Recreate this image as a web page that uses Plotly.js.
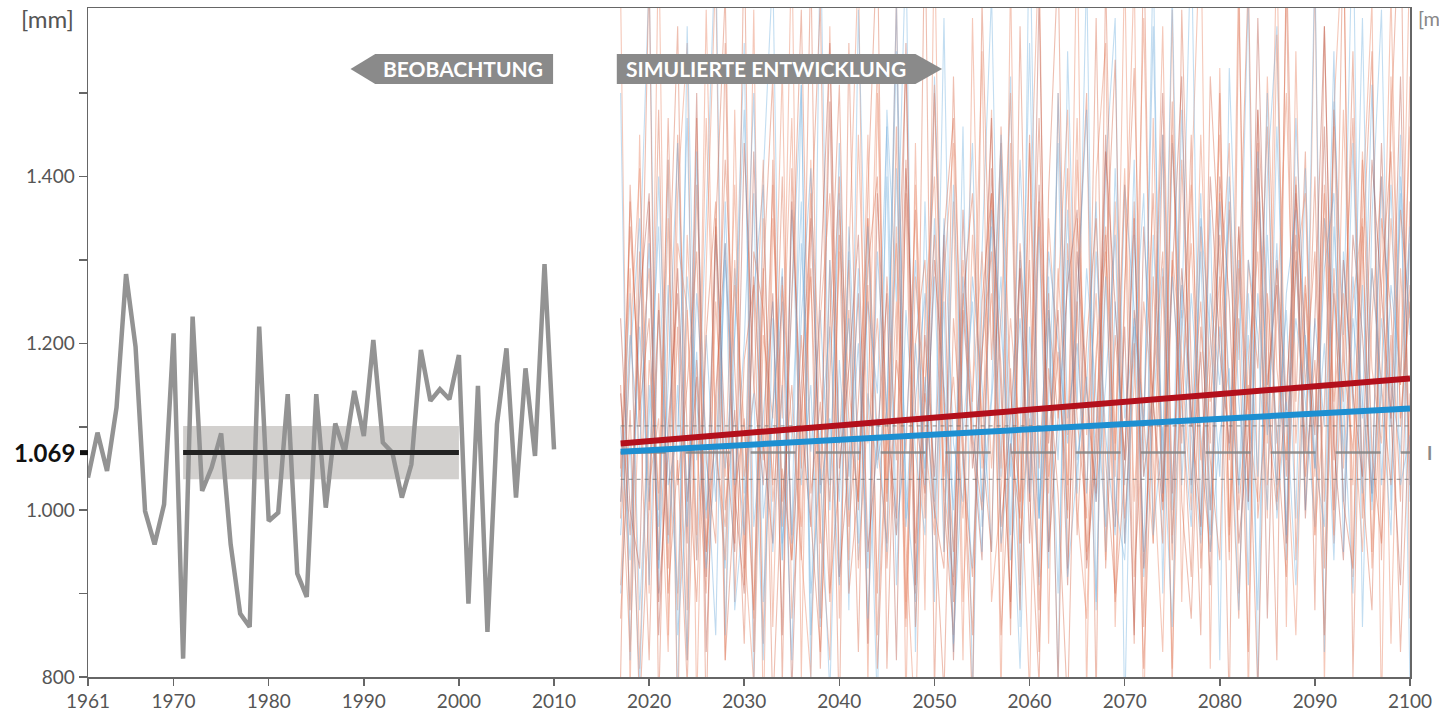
<!DOCTYPE html>
<html>
<head>
<meta charset="utf-8">
<script src="https://cdn.plot.ly/plotly-3.0.1.min.js"></script>
<style>html,body{margin:0;padding:0;background:#fff;}#chart{width:1439px;height:713px;}</style>
</head>
<body>
<div id="chart"></div>
<script>
// ---------- DATA ----------
var obsStartYear = 1961;
var observed = [1039,1093,1047,1123,1283,1196,999,959,1007,1212,
  822,1232,1023,1051,1092,959,876,860,1220,987,
  997,1139,924,896,1139,1003,1104,1069,1143,1089,
  1204,1081,1069,1015,1055,1192,1131,1145,1133,1186,
  888,1149,854,1103,1194,1015,1170,1065,1295,1073];

var refPeriod = [1971, 2000];
var refMean = 1069;
var refBand = [1037, 1101];

var simStartYear = 2017;
var simEndYear = 2100;

var red1 = [1150,880,1310,1000,1480,930,1220,820,1390,1060,960,1560,
 890,1180,1270,840,1420,1010,1150,940,1330,1610,900,1040,
 1240,830,1350,1080,960,1460,870,1200,1300,1000,930,1520,
 1070,850,1250,1380,950,1170,880,1440,1050,1260,790,1320,
 1110,990,1590,930,1210,1060,1370,860,1280,1010,1450,1140,
 920,1340,1080,1500,970,1230,830,1410,1120,1000,1630,940,
 1270,1100,1380,960,1200,1470,1030,880,1350,1240,1010,1520];
var red2 = [1010,1290,810,1180,1020,1420,740,1330,1080,900,1250,1040,
 1390,960,790,1210,1110,1530,870,1050,1280,980,820,1360,
 1150,1010,1450,850,1100,1320,960,730,1240,1400,1030,910,
 1300,1130,1550,890,1020,1230,1080,780,1370,950,1260,1480,
 1000,870,1190,1340,1040,1660,920,1110,960,1280,810,1220,
 1390,1070,950,1250,1440,900,1180,1310,990,1570,1090,850,
 1260,1040,1350,970,1480,1130,950,1230,1400,840,1290,1070];
var red3 = [1230,1000,930,1370,850,1100,1260,960,1500,830,1140,1320,
 1020,900,1430,1080,960,1280,780,1150,1350,1030,1490,920,
 1060,1260,840,1380,1110,990,1560,910,1210,1040,1330,820,
 1240,1080,940,1410,1140,890,1300,1010,1620,950,1110,1270,
 1360,930,1070,1450,980,1220,850,1340,1130,1000,1280,1520,
 1030,1190,910,1400,1250,960,1090,1480,870,1300,1120,1390,
 990,1230,1580,1080,940,1330,1210,1020,1440,1110,910,1370];
var red4 = [1050,1340,1140,820,1260,970,1450,1090,890,1210,1370,1000,
 1120,840,1310,1240,1030,1400,940,1110,1290,810,1220,1510,
 980,1130,1350,900,1280,1060,1420,960,1150,1330,1010,850,
 1250,1380,1080,950,1460,1140,1010,1300,830,1240,1110,1410,
 970,1200,1350,1060,900,1270,1530,1040,1150,1310,940,1420,
 1100,1250,1000,1380,1130,870,1300,1170,1460,1010,1140,1330,
 1070,1400,930,1260,1130,1550,990,1290,1150,1030,1360,1230];
var red5 = [910,1200,1410,1030,1110,830,1320,1240,940,1600,1070,980,
 1270,1100,870,1350,1010,1150,1470,950,800,1230,1380,1080,
 1300,930,1120,1540,1020,1250,860,1390,1090,970,1280,1440,
 890,1140,1310,1050,1230,1500,960,1110,920,1350,1160,1030,
 1420,1090,1260,940,1370,990,1150,1590,1060,830,1310,1180,
 1000,1450,1130,1280,940,1340,1110,1010,1520,1170,1060,1290,
 1380,970,1130,1460,1050,1250,1350,930,1150,1620,1100,1270];
var red6 = [1140,970,1250,1380,890,1070,1290,1010,1160,920,1340,1090,
 950,1440,1150,1030,1260,850,1370,1110,980,1280,1560,1050,
 1170,1330,950,1080,1260,820,1410,1120,1020,1300,1140,890,
 1360,1050,1180,1470,980,1110,1290,960,1390,1080,1240,910,
 1310,1140,1010,1430,1240,1060,1350,930,1160,1500,1020,1290,
 1120,980,1400,1190,1080,1340,1010,1590,1150,1270,960,1380,
 1200,1090,1460,1000,1300,1140,1040,1420,1260,1110,1520,1030];
var red7 = [990,1370,1120,1230,940,1470,1030,1150,1310,950,1100,1420,
 1170,910,1280,1060,1390,980,1250,1600,1020,1130,890,1330,
 1110,1010,1290,1400,930,1180,1070,1360,990,1500,1130,950,
 1260,1090,1000,1380,1170,870,1320,1120,1470,1040,1190,990,
 1350,1150,1020,1290,1540,960,1240,1110,1380,1010,1300,1080,
 1450,930,1170,1330,1060,1260,1640,990,1140,1290,1040,1400,
 1150,1310,1010,1480,1180,1070,1340,950,1270,1430,1110,1250];
var red8 = [1070,830,1150,1290,1000,1350,880,1240,970,1470,1090,940,
 1300,1040,1140,1420,860,1270,1100,980,1380,1160,1010,1310,
 940,1450,1080,1230,1010,1340,890,1280,1130,1510,1040,1160,
 990,1330,1110,1260,1050,1440,960,1140,1360,1020,1290,1090,
 1470,950,1180,1310,1080,1410,1010,1250,1130,1580,970,1150,
 1320,1060,1200,1450,980,1290,1120,1370,1030,1230,1500,1080,
 1280,970,1390,1130,1260,1030,1430,1170,1080,1350,1150,1460];
var red9 = [870,1120,760,1010,1240,900,1060,790,1180,950,1350,820,
 1020,1110,880,1290,760,1050,940,1210,990,830,1160,1400,
 900,1030,1270,810,1090,970,1380,860,1140,1000,780,1230,
 1060,920,1190,1310,850,1080,990,1450,880,1170,1020,760,
 1250,940,1100,1330,890,1040,1200,810,1130,960,1490,1010,
 870,1220,1060,940,1370,1000,1150,780,1260,1090,920,1310,
 1040,1180,850,1290,1010,930,1420,1070,960,1210,830,1140];
var red10 = [1620,780,1450,900,1700,850,1380,1560,760,1290,1650,820,
 1480,930,1600,740,1350,1110,1690,800,1420,960,1580,870,
 1300,1660,790,1500,1010,1620,760,1440,880,1700,950,1370,
 820,1590,1050,1480,770,1640,910,1330,1680,840,1500,1000,
 1710,780,1400,1560,860,1250,1650,730,1470,1020,1600,890,
 1380,1720,810,1530,950,1660,770,1440,1080,1690,860,1550,
 1000,1640,790,1480,1700,920,1360,1610,750,1520,1150,1680];
var red11 = [800,1390,1100,1650,760,1230,1580,880,1470,740,1340,1620,
 960,1700,830,1280,1520,790,1410,1050,1660,870,1300,740,
 1560,1000,1380,1690,810,1200,1540,900,1720,780,1330,1470,
 1090,760,1610,1180,1440,850,1580,1020,790,1380,1660,930,
 1250,1500,770,1640,1060,1390,840,1700,960,1450,780,1600,
 1170,850,1520,1290,760,1610,1010,1480,1240,820,1670,1130,
 1430,880,1580,1060,1710,800,1300,1550,940,1460,1750,870];

var blue1 = [1040,1260,880,1110,1340,960,1150,820,1430,1000,1080,930,
 1290,1020,1380,890,1120,1250,970,1510,850,1090,1220,1010,
 1310,940,1140,1050,1400,910,1240,1070,970,1350,1110,830,
 1200,1440,980,1130,1280,940,1080,1560,990,1230,900,1300,
 1060,1150,1370,950,1250,1030,1420,920,1120,1290,1000,1480,
 1090,960,1260,1150,1360,1020,1210,880,1330,1080,1240,990,
 1410,1050,1200,940,1310,1120,1590,1000,1230,1100,1380,1010];
var blue2 = [970,1180,1350,910,1240,1030,1090,1470,940,1210,1010,1300,
 1110,970,1260,1390,950,1150,820,1320,1070,1240,1000,1440,
 1040,1200,930,1310,1110,1610,980,1130,1260,890,1350,1080,
 1010,1280,1150,950,1420,1070,1230,1020,1340,930,1500,1110,
 1200,1020,1310,1090,970,1390,1240,1040,1140,1450,960,1270,
 1100,1380,1000,1220,1070,1300,910,1430,1130,1030,1260,1360,
 1000,1230,1100,1550,950,1280,1130,1020,1400,1150,1070,1320];
var blue3 = [1100,940,1220,1010,1400,1070,900,1280,1130,990,1330,1050,
 1210,1480,980,1110,1250,940,1360,1030,1150,860,1300,1080,
 1230,960,1340,1060,1120,1550,990,1200,1050,1280,950,1390,
 1090,1250,1010,1140,1450,970,1310,1100,910,1240,1060,1360,
 1020,1290,1140,980,1410,1110,1220,950,1330,1070,1620,1030,
 1260,1090,970,1370,1150,1030,1300,1210,1000,1460,1100,1230,
 1130,980,1350,1250,1070,1440,1020,1290,1140,970,1400,1210];
var blue4 = [1010,1210,1070,1320,930,1150,1440,980,1260,1080,850,1370,
 1030,1200,1500,990,1120,1290,960,1230,1410,1020,1110,910,
 1340,1060,1250,1140,1460,970,1090,1300,1030,1520,1150,1000,
 1280,1110,950,1360,1220,1040,1420,1130,990,1310,1200,1080,
 1250,1480,1010,1150,1330,960,1230,1100,1580,1020,1280,1120,
 980,1350,1210,1040,1400,1130,1000,1260,1090,1320,970,1470,
 1190,1050,1290,1380,1010,1230,1110,1510,1030,1270,1160,1340];
var blue5 = [900,1080,790,1150,980,1270,850,1020,1190,930,1060,1320,
 880,1010,1140,820,1230,960,1090,1370,900,1050,780,1180,
 1000,1290,870,1110,950,1410,1030,890,1160,990,1250,840,
 1070,930,1200,1340,960,1080,810,1220,1000,1130,1440,920,
 1050,1160,890,1280,1010,940,1190,1380,970,1100,860,1240,
 1020,1310,950,1090,1170,880,1260,1040,1500,990,1130,910,
 1210,1060,980,1340,1120,900,1270,1010,1150,1390,1030,1090];
var blue6 = [1500,820,1290,1640,900,1420,760,1580,1060,1350,1690,850,
 1210,1560,780,1400,1650,940,1260,1510,800,1700,1030,1380,
 880,1600,1150,760,1480,1250,1680,830,1370,1010,1590,920,
 1460,770,1310,1620,1040,1520,860,1740,990,1280,790,1550,
 1120,1650,880,1410,1590,750,1330,1060,1670,900,1440,1230,
 1700,970,1360,820,1530,1180,1620,780,1400,1580,940,1300,
 1070,1660,830,1490,1210,1730,860,1350,1600,1000,1450,790];

var trendYears = [2017, 2100];
var redTrend = [1080, 1158];
var blueTrend = [1070, 1122];

var xTickVals = [1961,1970,1980,1990,2000,2010,2020,2030,2040,2050,2060,2070,2080,2090,2100];
var yTickVals = [800,900,1000,1100,1200,1300,1400,1500];
var yTickText = ['800','','1.000','','1.200','','1.400',''];
var leftLabel = 'BEOBACHTUNG';
var rightLabel = 'SIMULIERTE ENTWICKLUNG';
var unitLabel = '[mm]';
var unitLabelCut = '[m';
var meanLabel = '1.069';

// ---------- BUILD ----------
var obsYears = [];
for (var i = 0; i < observed.length; i++) obsYears.push(obsStartYear + i);
var simYears = [];
for (var y = simStartYear; y <= simEndYear; y++) simYears.push(y);

var FONT = 'Lato, "Open Sans", sans-serif';
var traces = [];
function ens(vals, color) {
  traces.push({x: simYears.slice(0, vals.length), y: vals, type: 'scatter', mode: 'lines',
    line: {color: color, width: 1.1}, hoverinfo: 'skip', showlegend: false});
}
var rA = 'rgba(218,110,80,0.45)', rB = 'rgba(175,70,55,0.4)', rC = 'rgba(235,145,115,0.5)';
var bA = 'rgba(120,180,225,0.45)', bB = 'rgba(95,160,215,0.4)';
ens(red10, rC); ens(blue6, bA); ens(red11, rA);
ens(red1, rA); ens(blue1, bA); ens(red2, rC); ens(red3, rB);
ens(blue2, bB); ens(red4, rA); ens(red5, rC); ens(blue3, bA);
ens(red6, rB); ens(red7, rA); ens(blue4, bB); ens(red8, rC);
ens(blue5, bA); ens(red9, rA);

// reference lines over simulation period
traces.push({x: [simStartYear, simEndYear], y: [refBand[1], refBand[1]], mode: 'lines',
  line: {color: 'rgba(110,110,110,0.8)', width: 1, dash: '4px,4px'}, hoverinfo: 'skip', showlegend: false});
traces.push({x: [simStartYear, simEndYear], y: [refBand[0], refBand[0]], mode: 'lines',
  line: {color: 'rgba(110,110,110,0.8)', width: 1, dash: '4px,4px'}, hoverinfo: 'skip', showlegend: false});
traces.push({x: [simStartYear, simEndYear], y: [refMean, refMean], mode: 'lines',
  line: {color: 'rgba(130,130,130,0.85)', width: 2.5, dash: '45px,20px'}, hoverinfo: 'skip', showlegend: false});

// trends
traces.push({x: trendYears, y: redTrend, mode: 'lines', line: {color: '#b3101c', width: 6}, hoverinfo: 'skip', showlegend: false});
traces.push({x: trendYears, y: blueTrend, mode: 'lines', line: {color: '#1d8fd1', width: 6}, hoverinfo: 'skip', showlegend: false});

// observations
traces.push({x: obsYears, y: observed, mode: 'lines', line: {color: '#939393', width: 4.5}, hoverinfo: 'skip', showlegend: false});
traces.push({x: refPeriod, y: [refMean, refMean], mode: 'lines', line: {color: '#222222', width: 5}, hoverinfo: 'skip', showlegend: false});

var boxFill = '#8a8a8a';
var layout = {
  width: 1439, height: 713,
  margin: {l: 88, r: 29, t: 8, b: 36, pad: 0},
  paper_bgcolor: '#ffffff', plot_bgcolor: '#ffffff',
  font: {family: FONT, color: '#555555', size: 19},
  showlegend: false,
  xaxis: {range: [1961, 2100], tickmode: 'array', tickvals: xTickVals, ticktext: xTickVals.map(String),
    ticks: 'outside', ticklen: 7, tickwidth: 1.5, tickcolor: '#666', showline: true, linecolor: '#666',
    linewidth: 1.5, mirror: true, showgrid: false, zeroline: false, fixedrange: true,
    tickfont: {family: FONT, size: 19, color: '#555'}},
  yaxis: {range: [800, 1602], tickmode: 'array', tickvals: yTickVals, ticktext: yTickText,
    ticks: 'outside', ticklen: 8, tickwidth: 1.5, tickcolor: '#666', showline: true, linecolor: '#666',
    linewidth: 1.5, mirror: true, showgrid: false, zeroline: false, fixedrange: true,
    tickfont: {family: FONT, size: 19, color: '#555'}},
  shapes: [
    {type: 'rect', xref: 'x', yref: 'y', x0: refPeriod[0], x1: refPeriod[1], y0: refBand[0], y1: refBand[1],
      fillcolor: 'rgba(195,192,190,0.75)', line: {width: 0}, layer: 'below'},
    {type: 'line', xref: 'paper', yref: 'y', x0: -8/1322, x1: 0, y0: refMean, y1: refMean,
      line: {color: '#111', width: 5}},
    {type: 'path', xref: 'x', yref: 'y', path: 'M 1988.6 1529 L 1991.2 1547 L 2009.9 1547 L 2009.9 1511 L 1991.2 1511 Z',
      fillcolor: boxFill, line: {width: 0}},
    {type: 'path', xref: 'x', yref: 'y', path: 'M 2016.6 1547 L 2048.0 1547 L 2050.8 1529 L 2048.0 1511 L 2016.6 1511 Z',
      fillcolor: boxFill, line: {width: 0}}
  ],
  annotations: [
    {text: '<b>' + leftLabel + '</b>', x: 2000.4, y: 1529, xref: 'x', yref: 'y', showarrow: false,
      font: {family: FONT, size: 21, color: '#ffffff'}, xanchor: 'center', yanchor: 'middle'},
    {text: '<b>' + rightLabel + '</b>', x: 2032.3, y: 1529, xref: 'x', yref: 'y', showarrow: false,
      font: {family: FONT, size: 21, color: '#ffffff'}, xanchor: 'center', yanchor: 'middle'},
    {text: unitLabel, x: -12/1322, y: 1 - 10/669, xref: 'paper', yref: 'paper', showarrow: false,
      font: {family: FONT, size: 24, color: '#555'}, xanchor: 'right', yanchor: 'middle'},
    {text: unitLabelCut, x: 1 + 6/1322, y: 1 - 10/669, xref: 'paper', yref: 'paper', showarrow: false,
      font: {family: FONT, size: 20, color: '#888'}, xanchor: 'left', yanchor: 'middle'},
    {text: '<b>' + meanLabel + '</b>', x: -11/1322, y: refMean, xref: 'paper', yref: 'y', showarrow: false,
      font: {family: FONT, size: 24, color: '#111'}, xanchor: 'right', yanchor: 'middle'},
    {text: '<b>I</b>', x: 1 + 15/1322, y: refMean, xref: 'paper', yref: 'y', showarrow: false,
      font: {family: FONT, size: 18, color: '#888'}, xanchor: 'left', yanchor: 'middle'}
  ]
};

Plotly.newPlot('chart', traces, layout, {displayModeBar: false, staticPlot: true});
</script>
</body>
</html>
